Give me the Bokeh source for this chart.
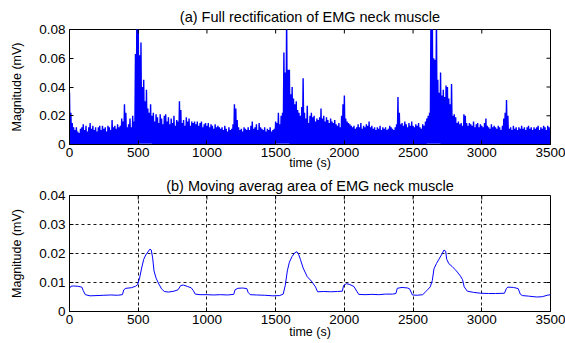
from bokeh.plotting import figure
from bokeh.layouts import column
from bokeh.models import FixedTicker, Range1d
from bokeh.embed import file_html
from bokeh.resources import INLINE

FONT = "Liberation Sans"

# ---------------- data ----------------
x_ticks = [0, 500, 1000, 1500, 2000, 2500, 3000, 3500]
top_yticks = [0, 0.02, 0.04, 0.06, 0.08]
top_ylabels = ["0", "0.02", "0.04", "0.06", "0.08"]
bot_yticks = [0, 0.01, 0.02, 0.03, 0.04]
bot_ylabels = ["0", "0.01", "0.02", "0.03", "0.04"]

# (a) rectified EMG: local peak every 10 s (units 1e-3 mV)
peak_step = 10
peaks = [
    36, 22, 15, 12, 10, 12, 9, 8, 11, 12,
    14, 10, 13, 9, 12, 15, 11, 13, 10, 12,
    9, 12, 13, 10, 13, 11, 12, 9, 13, 12,
    10, 17, 12, 13, 11, 14, 12, 13, 18, 16,
    28, 22, 12, 14, 18, 12, 20, 16, 63, 90,
    90, 62, 71, 40, 45, 30, 38, 25, 22, 28,
    20, 22, 16, 21, 19, 15, 21, 18, 14, 20,
    21, 16, 19, 14, 18, 15, 20, 13, 17, 16,
    30, 24, 15, 17, 13, 19, 16, 18, 13, 16,
    15, 16, 14, 16, 13, 15, 16, 12, 14, 15,
    13, 15, 12, 14, 13, 11, 14, 12, 13, 12,
    11, 12, 10, 13, 11, 9, 12, 10, 11, 14,
    28, 25, 17, 12, 10, 11, 9, 12, 11, 10,
    12, 10, 13, 16, 11, 12, 14, 10, 15, 12,
    11, 10, 12, 9, 11, 10, 12, 9, 10, 11,
    16, 15, 22, 14, 20, 22, 64, 50, 90, 52,
    52, 35, 40, 32, 28, 30, 24, 22, 20, 26,
    46, 22, 18, 27, 15, 20, 22, 19, 20, 16,
    18, 17, 19, 25, 18, 20, 16, 19, 17, 15,
    18, 16, 15, 17, 14, 13, 15, 12, 20, 28,
    34, 18, 16, 15, 14, 13, 12, 13, 11, 12,
    14, 12, 15, 11, 13, 12, 14, 13, 16, 12,
    13, 11, 12, 10, 12, 11, 13, 10, 12, 11,
    12, 10, 11, 13, 12, 11, 10, 12, 14, 33,
    22, 14, 15, 13, 16, 14, 12, 15, 13, 16,
    13, 12, 14, 13, 15, 12, 11, 14, 13, 16,
    18, 20, 22, 90, 90, 60, 59, 90, 45, 36,
    50, 34, 38, 33, 41, 40, 32, 28, 42, 20,
    21, 19, 15, 16, 14, 15, 13, 21, 20, 15,
    13, 15, 14, 13, 16, 12, 14, 15, 12, 14,
    13, 12, 15, 18, 13, 12, 11, 14, 12, 13,
    12, 11, 13, 12, 10, 13, 18, 22, 31, 20,
    11, 12, 10, 13, 11, 12, 10, 12, 11, 13,
    11, 12, 10, 12, 13, 11, 12, 10, 12, 11,
    12, 13, 10, 12, 11, 13, 12, 10, 13, 12,
]
# band floor for each 100 s block (units 1e-3 mV)
troughs = [0.3, 0.2, 0.4, 0.3, 0.2, 0.5, 0.3, 0.2, 0.3, 0.4,
           0.2, 0.3, 0.2, 0.4, 0.3, 0.5, 0.3, 0.2, 0.3, 0.2,
           0.4, 0.2, 0.3, 0.2, 0.3, 0.4, 0.5, 0.3, 0.2, 0.3,
           0.2, 0.4, 0.2, 0.3, 0.2]

# (b) moving average
bx = [0, 10, 30, 60, 90, 100, 115, 150, 200, 250,
      300, 350, 385, 395, 410, 450, 480, 495, 510, 525,
      540, 555, 570, 585, 595, 605, 615, 630, 650, 670,
      690, 720, 760, 790, 810, 830, 860, 885, 900, 915,
      950, 1000, 1050, 1100, 1150, 1195, 1205, 1225, 1260, 1290,
      1300, 1315, 1360, 1420, 1480, 1530, 1555, 1570, 1585, 1600,
      1620, 1640, 1655, 1665, 1680, 1700, 1730, 1760, 1790, 1805,
      1850, 1900, 1950, 1985, 1995, 2015, 2040, 2070, 2090, 2105,
      2150, 2200, 2250, 2300, 2350, 2375, 2385, 2420, 2460, 2475,
      2495, 2530, 2570, 2600, 2625, 2640, 2652, 2670, 2688, 2710,
      2725, 2737, 2745, 2760, 2785, 2805, 2822, 2845, 2860, 2872,
      2895, 2940, 2990, 3050, 3100, 3165, 3180, 3190, 3230, 3265,
      3280, 3295, 3340, 3400, 3440, 3476, 3500]
by = [0.0080, 0.0087, 0.0088, 0.0087, 0.0084, 0.0072, 0.0058, 0.0054, 0.0055, 0.0056,
      0.0057, 0.0056, 0.0058, 0.0075, 0.0080, 0.0082, 0.0087, 0.0092, 0.0115, 0.0150,
      0.0180, 0.0195, 0.0205, 0.0215, 0.0212, 0.0185, 0.0140, 0.0115, 0.0095, 0.0078,
      0.0069, 0.0067, 0.0070, 0.0075, 0.0090, 0.0091, 0.0086, 0.0082, 0.0073, 0.0060,
      0.0058, 0.0058, 0.0057, 0.0058, 0.0057, 0.0059, 0.0075, 0.0080, 0.0081, 0.0079,
      0.0066, 0.0058, 0.0057, 0.0056, 0.0054, 0.0055, 0.0060, 0.0090, 0.0140, 0.0170,
      0.0190, 0.0203, 0.0206, 0.0200, 0.0180, 0.0150, 0.0120, 0.0105, 0.0085, 0.0068,
      0.0069, 0.0068, 0.0069, 0.0070, 0.0090, 0.0096, 0.0093, 0.0086, 0.0070, 0.0059,
      0.0058, 0.0059, 0.0058, 0.0060, 0.0060, 0.0062, 0.0080, 0.0083, 0.0081, 0.0078,
      0.0057, 0.0056, 0.0058, 0.0072, 0.0085, 0.0107, 0.0147, 0.0165, 0.0180, 0.0198,
      0.0212, 0.0208, 0.0180, 0.0165, 0.0155, 0.0145, 0.0136, 0.0122, 0.0110, 0.0085,
      0.0070, 0.0066, 0.0063, 0.0062, 0.0062, 0.0063, 0.0080, 0.0084, 0.0083, 0.0079,
      0.0060, 0.0055, 0.0053, 0.0050, 0.0051, 0.0056, 0.0058]

# build zig-zag trace for (a)
ax, ay = [], []
for i, pk in enumerate(peaks):
    t = i * peak_step
    ax += [t, t + peak_step / 2]
    ay += [pk * 1e-3, troughs[i // 10] * 1e-3]

W = 565
LEFT, RIGHT = 69, 15
FRAME_W = W - LEFT - RIGHT
TICK_PX = 4


def style(p, yticks, ylabels, grid, frame_h, title_standoff, xlabel_standoff):
    p.title.text_font = FONT
    p.title.text_font_size = "14.5px"
    p.title.text_font_style = "normal"
    p.title.align = "center"
    p.title.text_color = "black"
    p.title.standoff = title_standoff
    p.background_fill_color = "white"
    p.border_fill_color = "white"
    p.outline_line_color = "black"
    p.outline_line_width = 1
    p.xaxis.ticker = FixedTicker(ticks=x_ticks)
    p.yaxis.ticker = FixedTicker(ticks=yticks)
    p.yaxis.major_label_overrides = {v: l for v, l in zip(yticks, ylabels)}
    for a in p.axis:
        a.major_tick_in = TICK_PX
        a.major_tick_out = 0
        a.minor_tick_line_color = None
        a.axis_line_color = "black"
        a.major_tick_line_color = "black"
        a.major_label_text_font = FONT
        a.major_label_text_font_size = "13.5px"
        a.major_label_text_color = "black"
        a.axis_label_text_font = FONT
        a.axis_label_text_font_size = "12.5px"
        a.axis_label_text_font_style = "normal"
        a.axis_label_text_color = "black"
    p.xaxis.major_label_standoff = 3
    p.yaxis.major_label_standoff = 4
    p.xaxis.axis_label = "time (s)"
    p.xaxis.axis_label_standoff = xlabel_standoff
    p.yaxis.axis_label = "Magnitude (mV)"
    p.yaxis.axis_label_standoff = 12
    # mirrored inward ticks on the top and right edges of the box
    x0, x1 = p.x_range.start, p.x_range.end
    y0, y1 = p.y_range.start, p.y_range.end
    dy = TICK_PX * (y1 - y0) / frame_h
    dx = TICK_PX * (x1 - x0) / FRAME_W
    p.segment(x0=x_ticks, x1=x_ticks, y0=[y1] * len(x_ticks), y1=[y1 - dy] * len(x_ticks),
              line_color="black", line_width=1)
    p.segment(x0=[x1] * len(yticks), x1=[x1 - dx] * len(yticks), y0=yticks, y1=yticks,
              line_color="black", line_width=1)
    if grid:
        p.grid.grid_line_color = "black"
        p.grid.grid_line_dash = "3 3"
        p.grid.grid_line_width = 1
        p.grid.grid_line_alpha = 0.9
    else:
        p.grid.visible = False


H1 = 173
p1 = figure(width=W, height=H1, x_range=Range1d(0, 3500), y_range=Range1d(0, 0.08),
            title="(a) Full rectification of EMG neck muscle",
            output_backend="svg", toolbar_location=None,
            min_border_left=LEFT, min_border_right=RIGHT, min_border_top=29,
            min_border_bottom=H1 - 29 - 115)
p1.line(ax, ay, line_color="#0000ff", line_width=1.4)
style(p1, top_yticks, top_ylabels, grid=False, frame_h=115, title_standoff=9,
      xlabel_standoff=-4)

H2 = 343 - H1
p2 = figure(width=W, height=H2, x_range=Range1d(0, 3500), y_range=Range1d(0, 0.04),
            title="(b) Moving averag area of EMG neck muscle",
            output_backend="svg", toolbar_location=None,
            min_border_left=LEFT, min_border_right=RIGHT, min_border_top=195 - H1,
            min_border_bottom=32)
p2.line(bx, by, line_color="#0000ff", line_width=1)
style(p2, bot_yticks, bot_ylabels, grid=True, frame_h=116, title_standoff=4,
      xlabel_standoff=-2)

layout = column(p1, p2, spacing=0)
open("out.html", "w").write(file_html(layout, INLINE))
